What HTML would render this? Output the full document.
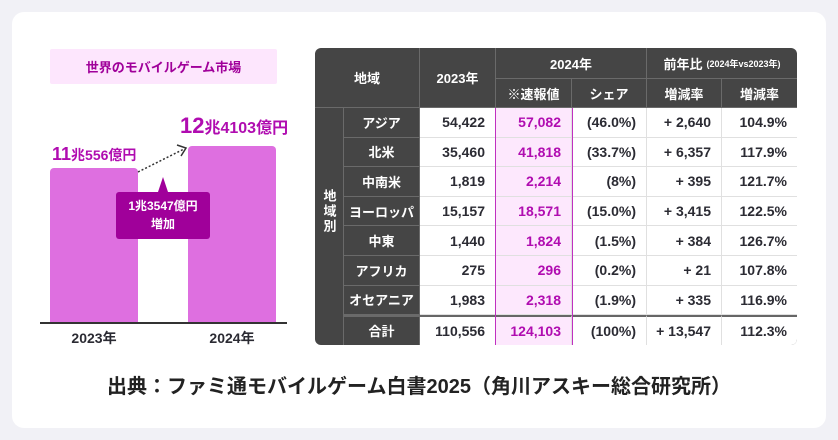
<!DOCTYPE html>
<html><head><meta charset="utf-8"><style>
*{margin:0;padding:0;box-sizing:border-box}
body{width:838px;height:440px;background:#f1f1f6;position:relative;overflow:hidden;font-family:"Liberation Sans","Noto Sans CJK JP",sans-serif;font-weight:bold}
.a{position:absolute}
.card{left:12px;top:12px;width:814px;height:416px;background:#fff;border-radius:12px}
.c{position:absolute;display:flex;align-items:center;font-size:14px}
.h{color:#fff;justify-content:center;border-right:1px solid #6a6a6a;border-bottom:1px solid #6a6a6a;font-size:13px}
.d{color:#2b2b33;justify-content:flex-end;padding-right:10px;background:#fff;border-right:1px solid #e0e0e0;border-bottom:1px solid #e0e0e0}
.m{color:#b00cb0;background:#fde8fd}
</style></head><body>
<div class="a card"></div>
<div class="a" style="left:50px;top:49px;width:227px;height:35px;background:#fde6fd;border-radius:2px;color:#a0009a;font-size:13px;display:flex;align-items:center;justify-content:center">世界のモバイルゲーム市場</div>
<div class="a" style="left:50px;top:168px;width:88px;height:155px;background:#de6fe0;border-radius:4px 4px 0 0"></div>
<div class="a" style="left:188px;top:146px;width:88px;height:177px;background:#de6fe0;border-radius:4px 4px 0 0"></div>
<div class="a" style="left:40px;top:322px;width:247px;height:2px;background:#333"></div>
<div class="a" style="left:52px;top:144px;color:#b00cb0;font-size:18px">11<span style="font-size:14px">兆556億円</span></div>
<div class="a" style="left:180px;top:113px;color:#b00cb0;font-size:22px">12<span style="font-size:16px">兆4103億円</span></div>
<svg class="a" style="left:0;top:0" width="838" height="440"><line x1="138" y1="172" x2="184" y2="149" stroke="#333" stroke-width="1.5" stroke-dasharray="2,2"/><polyline points="177,145 186,148 181,156" fill="none" stroke="#333" stroke-width="1.5"/><polygon points="158,192 168,192 163,177" fill="#a0009a"/></svg>
<div class="a" style="left:116px;top:192px;width:94px;height:47px;background:#a0009a;border-radius:3px;color:#fff;font-size:12px;text-align:center;line-height:18px;padding-top:5px">1兆3547億円<br>増加</div>
<div class="a" style="left:50px;top:328px;width:88px;text-align:center;color:#2b2b33;font-size:14px">2023年</div>
<div class="a" style="left:188px;top:328px;width:88px;text-align:center;color:#2b2b33;font-size:14px">2024年</div>

<div class="a" style="left:315px;top:48px;width:482px;height:297px;background:#454545;border-radius:6px;overflow:hidden">
<div class="c h" style="left:0;top:0;width:105px;height:60px">地域</div>
<div class="c h" style="left:105px;top:0;width:76px;height:60px">2023年</div>
<div class="c h" style="left:181px;top:0;width:151px;height:31px">2024年</div>
<div class="c h" style="left:332px;top:0;width:150px;height:31px;border-right:none">前年比<span style="font-size:9px;margin-left:4px">(2024年vs2023年)</span></div>
<div class="c h" style="left:181px;top:31px;width:76px;height:29px">※速報値</div>
<div class="c h" style="left:257px;top:31px;width:75px;height:29px">シェア</div>
<div class="c h" style="left:332px;top:31px;width:75px;height:29px">増減率</div>
<div class="c h" style="left:407px;top:31px;width:75px;height:29px;border-right:none">増減率</div>
<div class="c h" style="left:0;top:60px;width:29px;height:237px;border-bottom:none;padding-bottom:30px"><span style="writing-mode:vertical-rl;letter-spacing:2px">地域別</span></div>
</div>
<div id="rows"></div>
<script>
var R=[["アジア","54,422","57,082","(46.0%)","+2,640","104.9%"],["北米","35,460","41,818","(33.7%)","+6,357","117.9%"],["中南米","1,819","2,214","(8%)","+395","121.7%"],["ヨーロッパ","15,157","18,571","(15.0%)","+3,415","122.5%"],["中東","1,440","1,824","(1.5%)","+384","126.7%"],["アフリカ","275","296","(0.2%)","+21","107.8%"],["オセアニア","1,983","2,318","(1.9%)","+335","116.9%"],["合計","110,556","124,103","(100%)","+13,547","112.3%"]];
var X=[344,420,496,572,647,722,797],h="";
R.forEach(function(r,i){var y=108+i*29.6,hh=29.6;
 var bt=i==7?"border-top:2px solid #666;":"";
 h+='<div class="c h" style="left:344px;top:'+y+'px;width:76px;height:'+hh+'px;background:#454545;'+(i==7?'border-top:2px solid #6a6a6a;border-bottom:none;':'')+'">'+r[0]+'</div>';
 for(var j=1;j<6;j++){var cl="c d"+(j==2?" m":"");
  h+='<div class="'+cl+'" style="left:'+X[j]+'px;top:'+y+'px;width:'+(X[j+1]-X[j])+'px;height:'+hh+'px;'+bt+(j==5?'border-right:none;':'')+(i==7?'border-bottom:none;':'')+(i==7&&j==5?'border-bottom-right-radius:6px;':'')+'">'+r[j].replace('+','+ ')+'</div>';}
});
h+='<div class="a" style="left:495px;top:108px;width:78px;height:237px;border-left:1.5px solid #c030c0;border-right:1.5px solid #c030c0"></div>';
document.getElementById("rows").innerHTML=h;
</script>
<div class="a" style="left:0;top:370px;width:838px;text-align:center;font-size:20px;color:#222">出典：ファミ通モバイルゲーム白書2025（角川アスキー総合研究所）</div>
</body></html>
